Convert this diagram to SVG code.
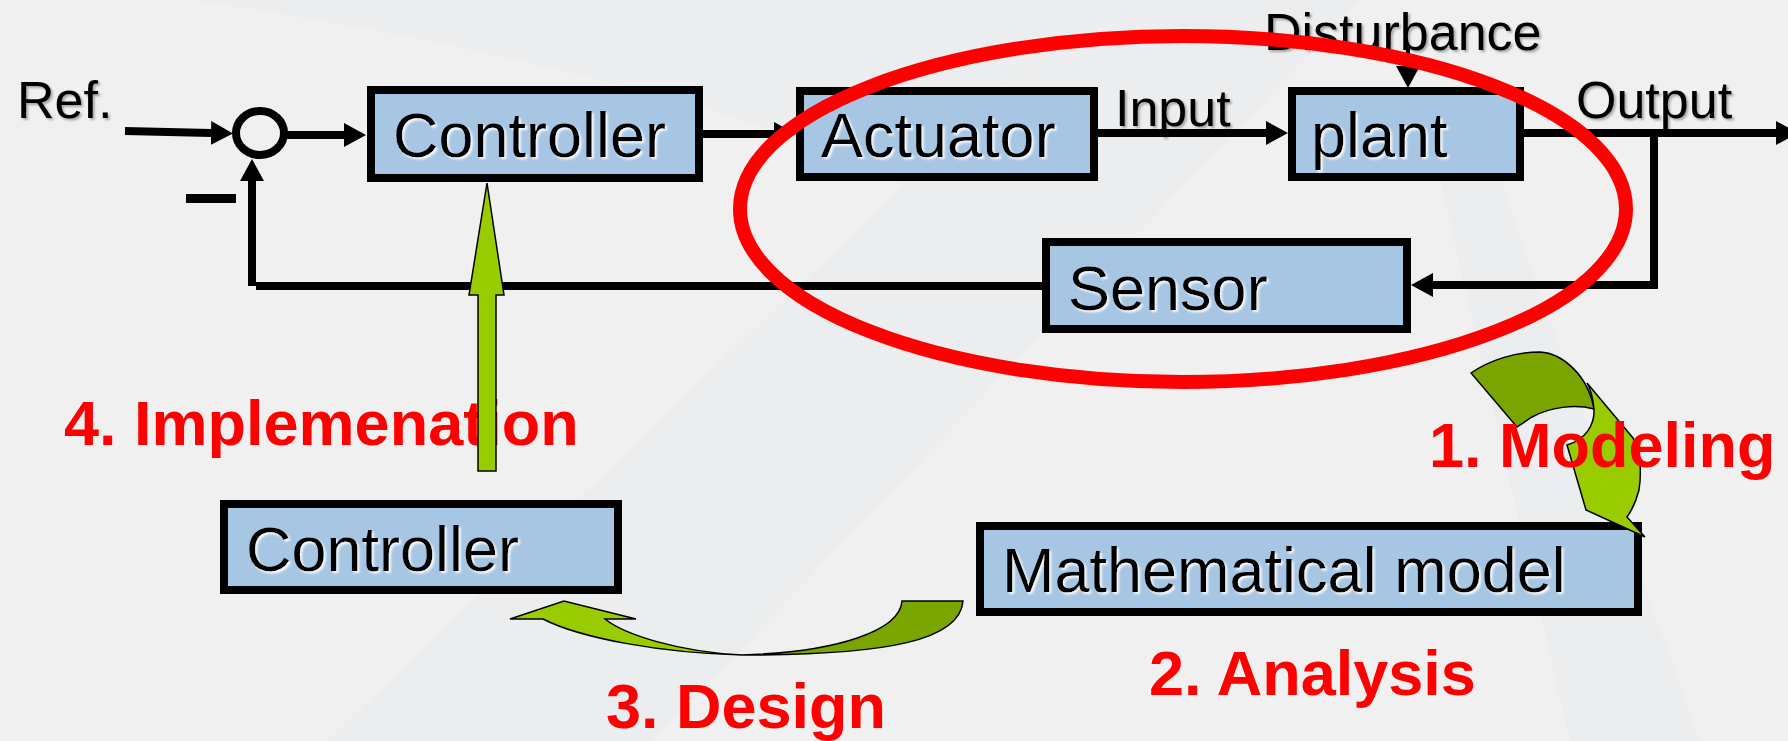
<svg xmlns="http://www.w3.org/2000/svg" width="1788" height="741" viewBox="0 0 1788 741">
  <defs>
    <style>
      .bg { fill: #f0f0f0; }
      .ray { fill: #e8ebee; opacity: 0.6; }
      .box { fill: #a7c6e3; stroke: #000; stroke-width: 8; }
      .boxlabel { font-family: "Liberation Sans", Arial, sans-serif; font-size: 63px; fill: #000; filter: url(#glow); }
      .sig { font-family: "Liberation Sans", Arial, sans-serif; font-size: 52px; fill: #000; filter: url(#shade); }
      .step { font-family: "Liberation Sans", Arial, sans-serif; font-size: 63px; font-weight: bold; fill: #ff0000; }
      .wire { fill: none; stroke: #000; stroke-width: 8; }
      .thin { fill: none; stroke: #000; stroke-width: 4; }
      .green { fill: #99cc00; stroke: #000; stroke-width: 1.5; stroke-linejoin: miter; }
      .olive { fill: #7aa500; stroke: #000; stroke-width: 1.5; }
      .ring { fill: none; stroke: #ff0000; stroke-width: 14; }
    </style>
    <filter id="glow" x="-5%" y="-20%" width="110%" height="140%">
      <feDropShadow dx="2" dy="2" stdDeviation="1" flood-color="#ffffff" flood-opacity="0.9"/>
    </filter>
    <filter id="shade" x="-5%" y="-20%" width="110%" height="140%">
      <feDropShadow dx="2" dy="2" stdDeviation="1" flood-color="#000000" flood-opacity="0.3"/>
    </filter>
    <!-- arrowhead placed with its base on the line end -->
    <marker id="head" viewBox="0 0 22 24" refX="0" refY="12" markerWidth="22" markerHeight="24" markerUnits="userSpaceOnUse" orient="auto">
      <path d="M0,0 L22,12 L0,24 Z" fill="#000"/>
    </marker>
  </defs>

  <!-- background with faint light rays -->
  <rect class="bg" x="0" y="0" width="1788" height="741"/>
  <path class="ray" d="M190,0 Q480,40 760,125 L900,185 L1096,0 Z"/>
  <path class="ray" d="M1096,0 L1361,0 L653,741 L327,741 Z"/>
  <path class="ray" d="M1440,180 L1500,180 L1700,741 L1570,741 Z"/>

  <!-- signal labels -->
  <g id="label-ref"><text class="sig" x="17" y="118">Ref.</text></g>
  <g id="label-input"><text class="sig" x="1115" y="126">Input</text></g>
  <g id="label-output"><text class="sig" x="1576" y="118">Output</text></g>
  <g id="label-disturbance"><text class="sig" x="1264" y="50">Disturbance</text></g>

  <!-- step labels -->
  <g id="step-implementation"><text class="step" x="64" y="445">4. Implemenation</text></g>
  <g id="step-design"><text class="step" x="606" y="728">3. Design</text></g>
  <g id="step-analysis"><text class="step" x="1149" y="695">2. Analysis</text></g>

  <!-- connectors -->
  <g id="connectors">
    <path class="wire" d="M125,131 L211,133" marker-end="url(#head)"/>
    <path class="wire" d="M287,135 L344,135" marker-end="url(#head)"/>
    <path class="wire" d="M703,134 L774,134" marker-end="url(#head)"/>
    <path class="wire" d="M1098,133 L1266,133" marker-end="url(#head)"/>
    <path class="wire" d="M1524,133 L1776,133" marker-end="url(#head)"/>
    <path class="wire" d="M1654,133 L1654,285 L1433,285" marker-end="url(#head)"/>
    <path class="wire" d="M1042,286 L256,286"/>
    <path class="wire" d="M252,286 L252,181" marker-end="url(#head)"/>
    <path class="thin" d="M1408,47 L1408,66" marker-end="url(#head)"/>
  </g>

  <!-- summing junction -->
  <g id="sum">
    <ellipse cx="260" cy="133" rx="24" ry="22" fill="none" stroke="#000" stroke-width="8"/>
    <rect x="186" y="194" width="50" height="9" fill="#000"/>
  </g>

  <!-- loop blocks -->
  <g id="controller">
    <rect class="box" x="371" y="90" width="328" height="88"/>
    <text class="boxlabel" x="393" y="157">Controller</text>
  </g>
  <g id="actuator">
    <rect class="box" x="800" y="91" width="294" height="86"/>
    <text class="boxlabel" x="821" y="157">Actuator</text>
  </g>
  <g id="plant">
    <rect class="box" x="1292" y="91" width="228" height="86"/>
    <text class="boxlabel" x="1311" y="157">plant</text>
  </g>
  <g id="sensor">
    <rect class="box" x="1046" y="242" width="361" height="87"/>
    <text class="boxlabel" x="1068" y="310">Sensor</text>
  </g>

  <!-- design-cycle blocks -->
  <g id="controller-design">
    <rect class="box" x="224" y="504" width="394" height="86"/>
    <text class="boxlabel" x="246" y="571">Controller</text>
  </g>
  <g id="math-model">
    <rect class="box" x="980" y="526" width="658" height="86"/>
    <text class="boxlabel" x="1002" y="592">Mathematical model</text>
  </g>

  <!-- implementation arrow -->
  <g id="arrow-implementation">
    <path class="green" d="M478,471 L496,471 L496,295 L504,295 L487,183 L469,295 L478,295 Z"/>
  </g>

  <!-- design arrow: twisted ribbon -->
  <g id="arrow-design">
    <path class="olive" d="M742,655 C890,655 960,640 963,601 L902,601 C900,630 840,652 742,655 Z"/>
    <path class="green" d="M742,655 C660,653 580,638 543,619 L510,619 L564,601 L636,619 L605,619 C625,635 680,652 742,655 Z"/>
  </g>

  <!-- modeling arrow: twisted ribbon -->
  <g id="arrow-modeling">
    <path class="olive" d="M1471,373 C1490,360 1515,352 1540,352 C1562,353 1588,375 1594,409 C1575,404 1550,407 1532,417 L1517,427 Z"/>
    <path class="green" d="M1587,383 L1633,438 C1640,450 1642,470 1639,490 C1636,502 1632,510 1627,517 L1645,537 L1586,510 L1567,445 C1585,440 1595,425 1594,409 C1593,398 1591,390 1587,383 Z"/>
  </g>
  <g id="step-modeling"><text class="step" x="1429" y="467">1. Modeling</text></g>

  <!-- highlight around the plant part of the loop -->
  <g id="highlight">
    <ellipse class="ring" cx="1183" cy="209" rx="443" ry="173"/>
  </g>
</svg>
